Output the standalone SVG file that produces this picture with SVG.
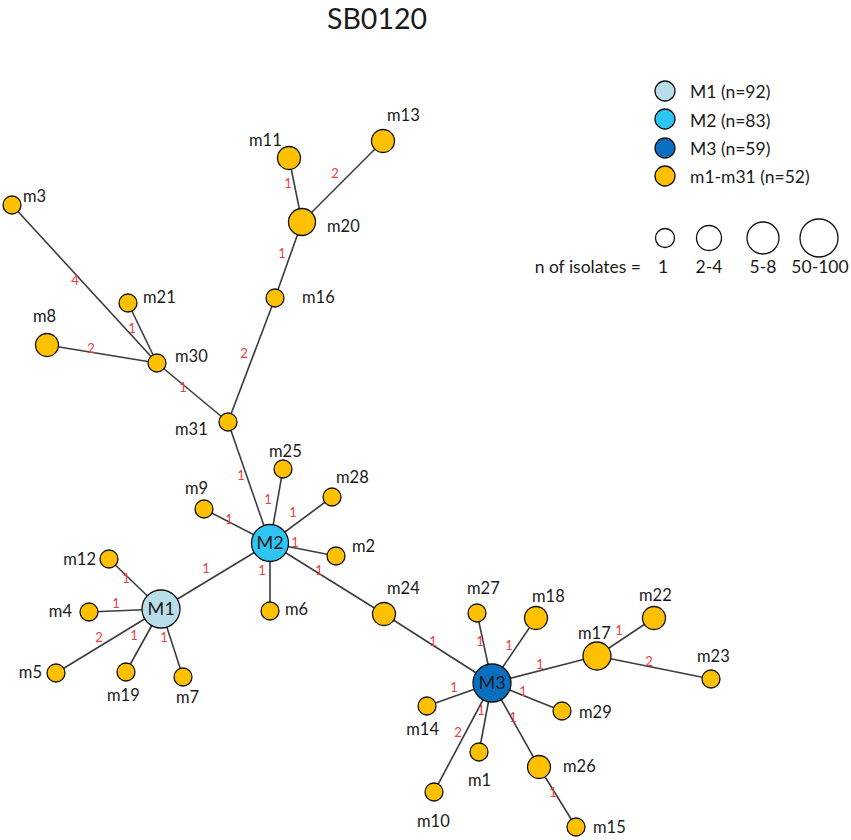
<svg xmlns="http://www.w3.org/2000/svg" width="851" height="840" viewBox="0 0 851 840">
<style>
text{font-family:Lato,"Open Sans","Liberation Sans",sans-serif;fill:#1a1a1a}
.lbl{font-size:16.5px}
.el{font-size:13px;fill:#ee3b3b;text-anchor:middle}
.leg{font-size:17.5px}
.e{stroke:#3c3c3c;stroke-width:1.6;fill:none}
.o{fill:#FFC000;stroke:#111;stroke-width:1.3}
.m1{fill:#B7DEE8;stroke:#111;stroke-width:1.3}
.m2{fill:#2EC4F4;stroke:#111;stroke-width:1.3}
.m3{fill:#0B6FC0;stroke:#111;stroke-width:1.3}
.w{fill:#fff;stroke:#111;stroke-width:1.3}
.big{font-size:18px;text-anchor:middle}
</style>
<rect width="851" height="840" fill="#fff"/>
<text x="377" y="28.5" font-size="28.5" text-anchor="middle">SB0120</text>

<g id="legend">
<circle class="m1" cx="665" cy="91" r="10"/><text class="leg" x="690" y="98">M1 (n=92)</text>
<circle class="m2" cx="665" cy="119" r="10"/><text class="leg" x="690" y="127">M2 (n=83)</text>
<circle class="m3" cx="665" cy="148" r="10"/><text class="leg" x="690" y="155">M3 (n=59)</text>
<circle class="o" cx="665" cy="176" r="10"/><text class="leg" x="690" y="183">m1-m31 (n=52)</text>
<circle class="w" cx="665" cy="238" r="9.5"/>
<circle class="w" cx="709" cy="238" r="12.5"/>
<circle class="w" cx="763" cy="238" r="16"/>
<circle class="w" cx="819" cy="238" r="19"/>
<text class="leg" x="641" y="273" text-anchor="end">n of isolates =</text>
<text class="leg" x="663" y="273" text-anchor="middle">1</text>
<text class="leg" x="709" y="273" text-anchor="middle">2-4</text>
<text class="leg" x="763" y="273" text-anchor="middle">5-8</text>
<text class="leg" x="820" y="273" text-anchor="middle">50-100</text>
</g>

<g id="connectors">
<line class="e" x1="12" y1="205" x2="157" y2="363"/>
<line class="e" x1="128" y1="303" x2="157" y2="363"/>
<line class="e" x1="47" y1="345" x2="157" y2="363"/>
<line class="e" x1="157" y1="363" x2="228" y2="422"/>
<line class="e" x1="228" y1="422" x2="275" y2="298"/>
<line class="e" x1="275" y1="298" x2="302" y2="222"/>
<line class="e" x1="302" y1="222" x2="289" y2="158"/>
<line class="e" x1="302" y1="222" x2="383" y2="141"/>
<line class="e" x1="228" y1="422" x2="270" y2="543"/>
<line class="e" x1="283" y1="469" x2="270" y2="543"/>
<line class="e" x1="332" y1="497" x2="270" y2="543"/>
<line class="e" x1="204" y1="509" x2="270" y2="543"/>
<line class="e" x1="336" y1="556" x2="270" y2="543"/>
<line class="e" x1="270" y1="611" x2="270" y2="543"/>
<line class="e" x1="161" y1="609" x2="270" y2="543"/>
<line class="e" x1="384" y1="614" x2="270" y2="543"/>
<line class="e" x1="384" y1="614" x2="492" y2="683"/>
<line class="e" x1="109" y1="559" x2="161" y2="609"/>
<line class="e" x1="89" y1="612" x2="161" y2="609"/>
<line class="e" x1="56" y1="673" x2="161" y2="609"/>
<line class="e" x1="126" y1="672" x2="161" y2="609"/>
<line class="e" x1="183" y1="677" x2="161" y2="609"/>
<line class="e" x1="477" y1="613" x2="492" y2="683"/>
<line class="e" x1="536" y1="618" x2="492" y2="683"/>
<line class="e" x1="597" y1="656" x2="492" y2="683"/>
<line class="e" x1="597" y1="656" x2="654" y2="618"/>
<line class="e" x1="597" y1="656" x2="711" y2="679"/>
<line class="e" x1="562" y1="711" x2="492" y2="683"/>
<line class="e" x1="427" y1="706" x2="492" y2="683"/>
<line class="e" x1="479" y1="752" x2="492" y2="683"/>
<line class="e" x1="434" y1="792" x2="492" y2="683"/>
<line class="e" x1="539" y1="767" x2="492" y2="683"/>
<line class="e" x1="539" y1="767" x2="576" y2="827"/>
<g id="edge-labels">
<text class="el" x="75" y="285">4</text>
<text class="el" x="132" y="333">1</text>
<text class="el" x="91" y="353">2</text>
<text class="el" x="183" y="392">1</text>
<text class="el" x="244" y="358">2</text>
<text class="el" x="282" y="258">1</text>
<text class="el" x="288" y="188">1</text>
<text class="el" x="335" y="178">2</text>
<text class="el" x="241" y="480">1</text>
<text class="el" x="268" y="504">1</text>
<text class="el" x="293" y="517">1</text>
<text class="el" x="229" y="524">1</text>
<text class="el" x="295" y="547">1</text>
<text class="el" x="206" y="573">1</text>
<text class="el" x="262" y="575">1</text>
<text class="el" x="319" y="575">1</text>
<text class="el" x="126" y="583">1</text>
<text class="el" x="116" y="608">1</text>
<text class="el" x="99" y="642">2</text>
<text class="el" x="134" y="640">1</text>
<text class="el" x="164" y="642">1</text>
<text class="el" x="433" y="646">1</text>
<text class="el" x="480" y="646">1</text>
<text class="el" x="509" y="650">1</text>
<text class="el" x="540" y="669">1</text>
<text class="el" x="454" y="692">1</text>
<text class="el" x="523" y="696">1</text>
<text class="el" x="481" y="715">1</text>
<text class="el" x="458" y="737">2</text>
<text class="el" x="513" y="722">1</text>
<text class="el" x="553" y="797">1</text>
<text class="el" x="619" y="635">1</text>
<text class="el" x="649" y="666">2</text>
</g>
</g>

<g id="n-m3"><circle class="o" cx="12" cy="205" r="9"/><text class="lbl" x="23" y="202">m3</text></g>
<g id="n-m21"><circle class="o" cx="128" cy="303" r="9"/><text class="lbl" x="143" y="303">m21</text></g>
<g id="n-m8"><circle class="o" cx="47" cy="345" r="11.5"/><text class="lbl" x="33" y="322">m8</text></g>
<g id="n-m30"><circle class="o" cx="157" cy="363" r="9"/><text class="lbl" x="175" y="362">m30</text></g>
<g id="n-m31"><circle class="o" cx="228" cy="422" r="9"/><text class="lbl" x="175" y="435">m31</text></g>
<g id="n-m11"><circle class="o" cx="289" cy="158" r="11.5"/><text class="lbl" x="249" y="146">m11</text></g>
<g id="n-m13"><circle class="o" cx="383" cy="141" r="11.5"/><text class="lbl" x="387" y="121">m13</text></g>
<g id="n-m20"><circle class="o" cx="302" cy="222" r="13.5"/><text class="lbl" x="327" y="232">m20</text></g>
<g id="n-m16"><circle class="o" cx="275" cy="298" r="9"/><text class="lbl" x="302" y="303">m16</text></g>
<g id="n-m25"><circle class="o" cx="283" cy="469" r="9"/><text class="lbl" x="269" y="457">m25</text></g>
<g id="n-m28"><circle class="o" cx="332" cy="497" r="9"/><text class="lbl" x="336" y="483">m28</text></g>
<g id="n-m9"><circle class="o" cx="204" cy="509" r="9"/><text class="lbl" x="185" y="494">m9</text></g>
<g id="n-m2"><circle class="o" cx="336" cy="556" r="9"/><text class="lbl" x="352" y="552">m2</text></g>
<g id="n-m6"><circle class="o" cx="270" cy="611" r="9"/><text class="lbl" x="285" y="615">m6</text></g>
<g id="n-m24"><circle class="o" cx="384" cy="614" r="11.5"/><text class="lbl" x="387" y="594">m24</text></g>
<g id="n-M2"><circle class="m2" cx="270" cy="543" r="18.5"/><text class="big" x="270" y="549">M2</text></g>
<g id="n-m12"><circle class="o" cx="109" cy="559" r="9"/><text class="lbl" x="96" y="565" text-anchor="end">m12</text></g>
<g id="n-m4"><circle class="o" cx="89" cy="612" r="9"/><text class="lbl" x="72" y="617" text-anchor="end">m4</text></g>
<g id="n-m5"><circle class="o" cx="56" cy="673" r="9"/><text class="lbl" x="42" y="678" text-anchor="end">m5</text></g>
<g id="n-m19"><circle class="o" cx="126" cy="672" r="9"/><text class="lbl" x="107" y="701">m19</text></g>
<g id="n-m7"><circle class="o" cx="183" cy="677" r="9"/><text class="lbl" x="176" y="703">m7</text></g>
<g id="n-M1"><circle class="m1" cx="161" cy="609" r="19"/><text class="big" x="161" y="615">M1</text></g>
<g id="n-m27"><circle class="o" cx="477" cy="613" r="9"/><text class="lbl" x="467" y="594">m27</text></g>
<g id="n-m18"><circle class="o" cx="536" cy="618" r="11.5"/><text class="lbl" x="532" y="602">m18</text></g>
<g id="n-m17"><circle class="o" cx="597" cy="656" r="14"/><text class="lbl" x="578" y="639">m17</text></g>
<g id="n-m22"><circle class="o" cx="654" cy="618" r="11.5"/><text class="lbl" x="639" y="601">m22</text></g>
<g id="n-m23"><circle class="o" cx="711" cy="679" r="9"/><text class="lbl" x="697" y="662">m23</text></g>
<g id="n-m29"><circle class="o" cx="562" cy="711" r="9"/><text class="lbl" x="579" y="718">m29</text></g>
<g id="n-m14"><circle class="o" cx="427" cy="706" r="9"/><text class="lbl" x="439" y="735" text-anchor="end">m14</text></g>
<g id="n-m1"><circle class="o" cx="479" cy="752" r="9"/><text class="lbl" x="468" y="786">m1</text></g>
<g id="n-m26"><circle class="o" cx="539" cy="767" r="11.5"/><text class="lbl" x="563" y="772">m26</text></g>
<g id="n-m10"><circle class="o" cx="434" cy="792" r="9"/><text class="lbl" x="417" y="827">m10</text></g>
<g id="n-m15"><circle class="o" cx="576" cy="827" r="9"/><text class="lbl" x="593" y="833">m15</text></g>
<g id="n-M3"><circle class="m3" cx="492" cy="683" r="19"/><text class="big" x="492" y="689">M3</text></g>
</svg>
